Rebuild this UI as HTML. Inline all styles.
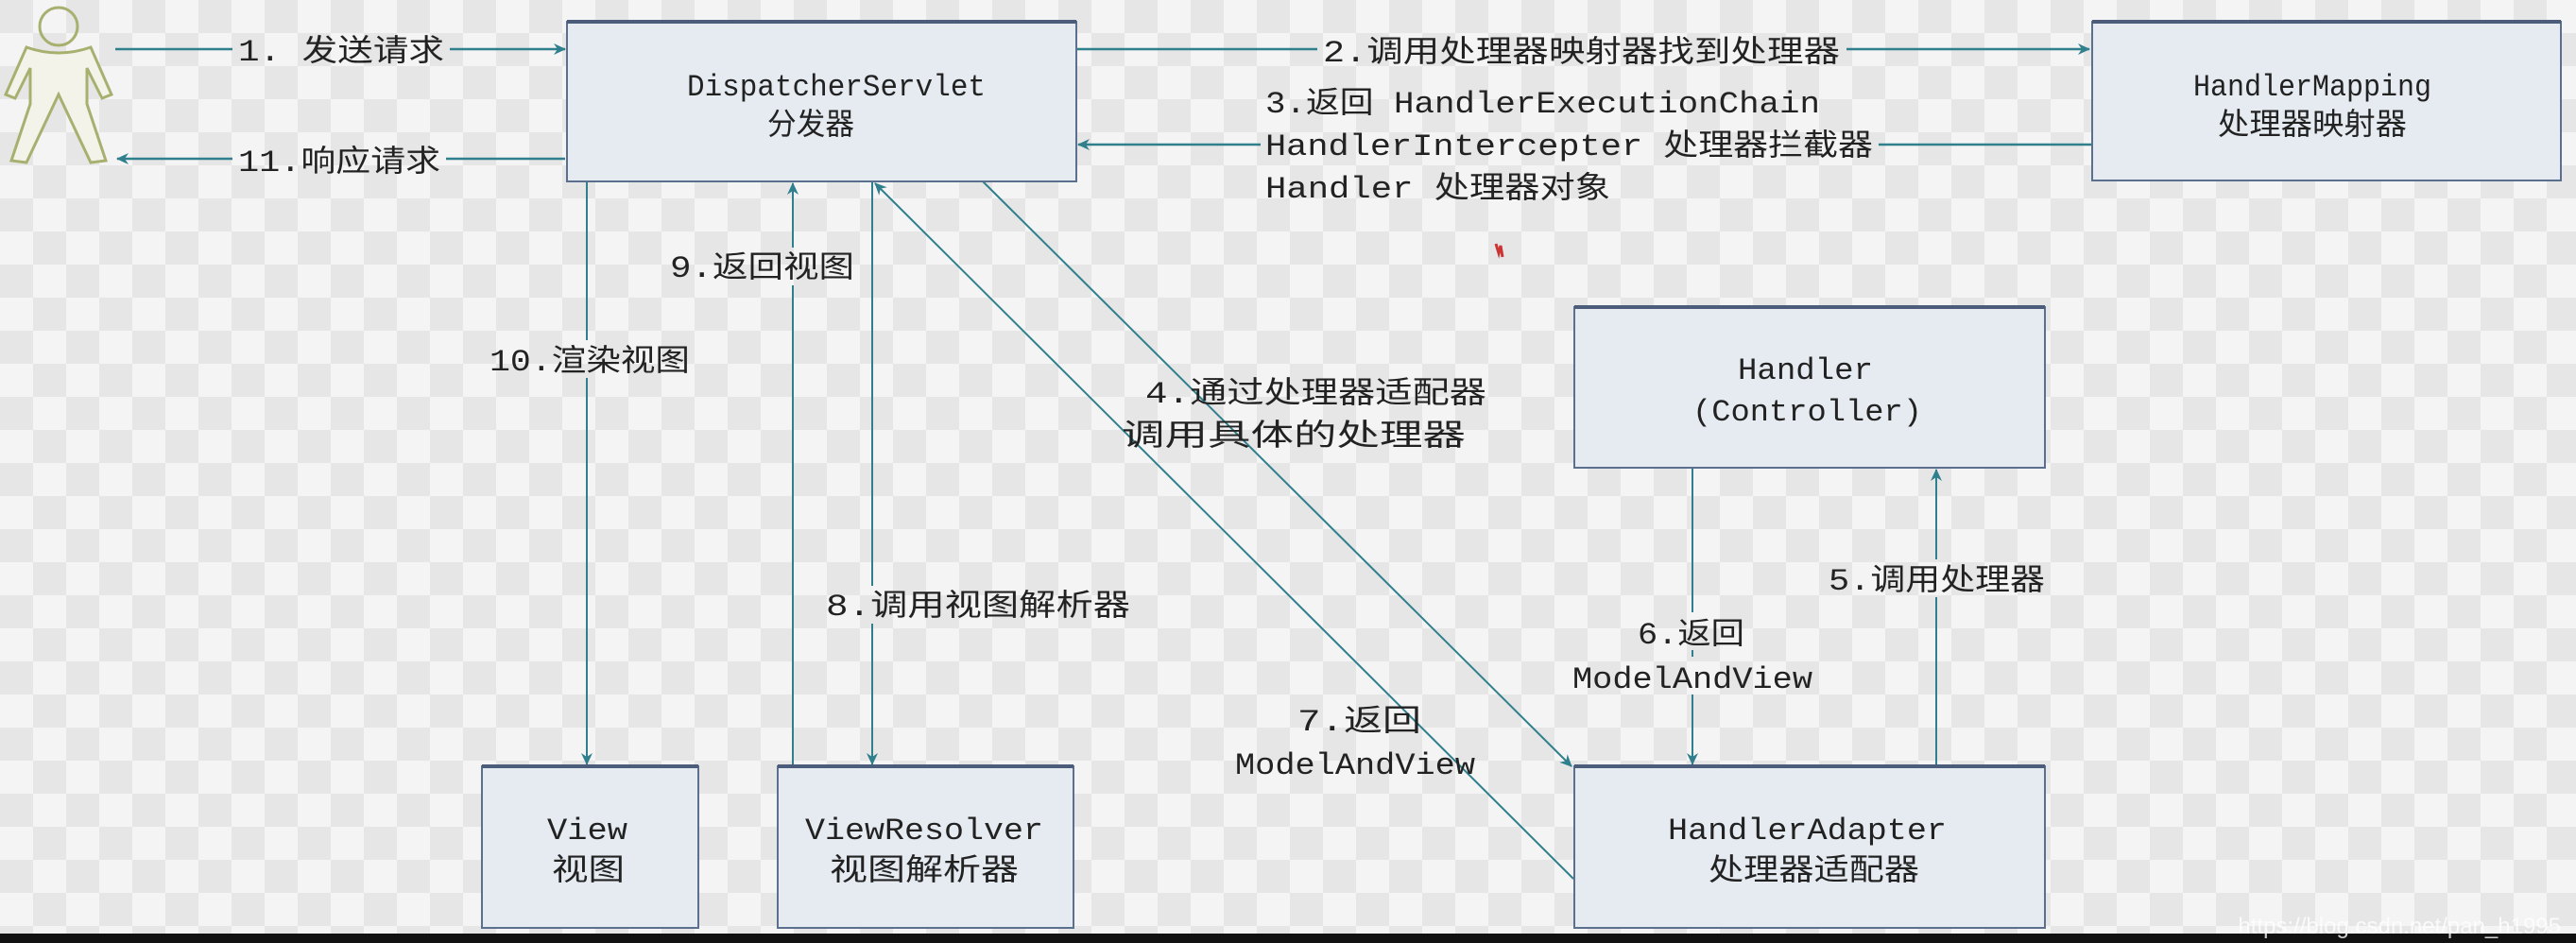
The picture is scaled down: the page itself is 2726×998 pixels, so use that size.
<!DOCTYPE html>
<html><head><meta charset="utf-8"><style>
html,body{margin:0;padding:0;}
body{width:2726px;height:998px;overflow:hidden;background:#eeeeee;}
svg{display:block;}
text{font-family:"Liberation Mono","Noto Sans CJK SC",monospace;font-size:32px;fill:#222;}
</style></head><body>
<svg width="2726" height="998" viewBox="0 0 2726 998" xmlns="http://www.w3.org/2000/svg">
<defs>
<pattern id="chk" width="70" height="70" patternUnits="userSpaceOnUse">
<rect width="70" height="70" fill="#f4f4f4"/>
<rect width="35" height="35" fill="#e6e6e6"/>
<rect x="35" y="35" width="35" height="35" fill="#e6e6e6"/>
</pattern>
<marker id="ah" markerWidth="14" markerHeight="14" refX="12" refY="7" orient="auto" markerUnits="userSpaceOnUse">
<path d="M0,1 L13,7 L0,13 L4,7 Z" fill="#2f7f8c"/>
</marker>
</defs>
<rect width="2726" height="998" fill="url(#chk)"/>
<rect x="0" y="988" width="2726" height="10" fill="#111"/>

<!-- actor -->
<g fill="none" stroke="#a8b070" stroke-width="3">
<circle cx="62" cy="28" r="20"/>
<path d="M28,50 Q62,62 96,50 L118,100 L108,104 L92,72 L92,110 L112,170 L96,172 L62,100 L28,172 L12,170 L32,110 L32,72 L16,104 L6,100 Z" fill="#f3f3ea"/>
</g>

<!-- connectors -->
<g stroke="#2f7f8c" stroke-width="2.5" fill="none">
<line x1="122" y1="52" x2="598" y2="52" marker-end="url(#ah)"/>
<line x1="598" y1="168" x2="124" y2="168" marker-end="url(#ah)"/>
<line x1="1139" y1="52" x2="2211" y2="52" marker-end="url(#ah)"/>
<line x1="2213" y1="153" x2="1141" y2="153" marker-end="url(#ah)"/>
<line x1="621" y1="192" x2="621" y2="809" marker-end="url(#ah)" stroke-width="2"/>
<line x1="839" y1="811" x2="839" y2="194" marker-end="url(#ah)" stroke-width="2"/>
<line x1="923" y1="192" x2="923" y2="809" marker-end="url(#ah)" stroke-width="2"/>
<line x1="1665" y1="930" x2="926" y2="194" marker-end="url(#ah)" stroke-width="2"/>
<line x1="1040" y1="192" x2="1663" y2="811" marker-end="url(#ah)" stroke-width="2"/>
<line x1="2049" y1="811" x2="2049" y2="497" marker-end="url(#ah)" stroke-width="2"/>
<line x1="1791" y1="495" x2="1791" y2="809" marker-end="url(#ah)" stroke-width="2"/>
</g>

<!-- boxes -->
<g fill="#e5ebf1" stroke="#5b6f8f" stroke-width="2">
<rect x="600" y="23" width="539" height="169"/>
<rect x="2214" y="23" width="496" height="168"/>
<rect x="1666" y="325" width="498" height="170"/>
<rect x="1666" y="811" width="498" height="171"/>
<rect x="510" y="811" width="229" height="171"/>
<rect x="823" y="811" width="313" height="171"/>
</g>
<g fill="#4b5d7a">
<rect x="600" y="21" width="539" height="4"/>
<rect x="2214" y="21" width="496" height="4"/>
<rect x="1666" y="323" width="498" height="4"/>
<rect x="1666" y="809" width="498" height="4"/>
<rect x="510" y="809" width="229" height="4"/>
<rect x="823" y="809" width="313" height="4"/>
</g>

<g lengthAdjust="spacingAndGlyphs">
<text x="727" y="101" textLength="316" lengthAdjust="spacingAndGlyphs">DispatcherServlet</text>
<text x="812" y="142" textLength="92" lengthAdjust="spacingAndGlyphs">分发器</text>
<text x="2321" y="101" textLength="252" lengthAdjust="spacingAndGlyphs">HandlerMapping</text>
<text x="2347" y="142" textLength="200" lengthAdjust="spacingAndGlyphs">处理器映射器</text>
<text x="1839" y="401" textLength="143" lengthAdjust="spacingAndGlyphs">Handler</text>
<text x="1791" y="445" textLength="243" lengthAdjust="spacingAndGlyphs">(Controller)</text>
<text x="1765" y="888" textLength="295" lengthAdjust="spacingAndGlyphs">HandlerAdapter</text>
<text x="1808" y="931" textLength="223" lengthAdjust="spacingAndGlyphs">处理器适配器</text>
<text x="579" y="888" textLength="85" lengthAdjust="spacingAndGlyphs">View</text>
<text x="584" y="931" textLength="77" lengthAdjust="spacingAndGlyphs">视图</text>
<text x="852" y="888" textLength="252" lengthAdjust="spacingAndGlyphs">ViewResolver</text>
<text x="878" y="931" textLength="200" lengthAdjust="spacingAndGlyphs">视图解析器</text>
</g>

<!-- labels with background masks -->
<g fill="url(#chk)">
<rect x="246" y="32" width="230" height="40"/>
<rect x="246" y="150" width="226" height="38"/>
<rect x="1394" y="32" width="560" height="40"/>
<rect x="1334" y="135" width="654" height="38"/>
<rect x="514" y="360" width="222" height="40"/>
<rect x="704" y="262" width="206" height="40"/>
<rect x="870" y="620" width="332" height="40"/>
<rect x="1728" y="648" width="124" height="40"/>
<rect x="1660" y="695" width="262" height="40"/>
<rect x="1930" y="592" width="240" height="40"/>
</g>
<text x="252" y="64" textLength="218" lengthAdjust="spacingAndGlyphs">1. 发送请求</text>
<text x="252" y="181" textLength="214" lengthAdjust="spacingAndGlyphs">11.响应请求</text>
<text x="1400" y="65" textLength="547" lengthAdjust="spacingAndGlyphs">2.调用处理器映射器找到处理器</text>
<text x="1339" y="119" textLength="587" lengthAdjust="spacingAndGlyphs">3.返回 HandlerExecutionChain</text>
<text x="1339" y="164" textLength="643" lengthAdjust="spacingAndGlyphs">HandlerIntercepter 处理器拦截器</text>
<text x="1339" y="209" textLength="365" lengthAdjust="spacingAndGlyphs">Handler 处理器对象</text>
<text x="518" y="392" textLength="212" lengthAdjust="spacingAndGlyphs">10.渲染视图</text>
<text x="709" y="293" textLength="195" lengthAdjust="spacingAndGlyphs">9.返回视图</text>
<text x="874" y="651" textLength="322" lengthAdjust="spacingAndGlyphs">8.调用视图解析器</text>
<text x="1212" y="426" textLength="361" lengthAdjust="spacingAndGlyphs">4.通过处理器适配器</text>
<text x="1187" y="471" textLength="364" lengthAdjust="spacingAndGlyphs">调用具体的处理器</text>
<text x="1373" y="773" textLength="131" lengthAdjust="spacingAndGlyphs">7.返回</text>
<text x="1307" y="819" textLength="254" lengthAdjust="spacingAndGlyphs">ModelAndView</text>
<text x="1733" y="681" textLength="113" lengthAdjust="spacingAndGlyphs">6.返回</text>
<text x="1664" y="728" textLength="254" lengthAdjust="spacingAndGlyphs">ModelAndView</text>
<text x="1935" y="624" textLength="229" lengthAdjust="spacingAndGlyphs">5.调用处理器</text>
<path d="M1583,258 l3,10 l2,-8 l2,12" stroke="#c33" stroke-width="3" fill="none"/>
<text x="2710" y="988" text-anchor="end" style="font-family:'Liberation Sans',sans-serif;font-size:24px;fill:#ffffff;opacity:0.8">https://blog.csdn.net/pan_h1995</text>
</svg>
</body></html>
